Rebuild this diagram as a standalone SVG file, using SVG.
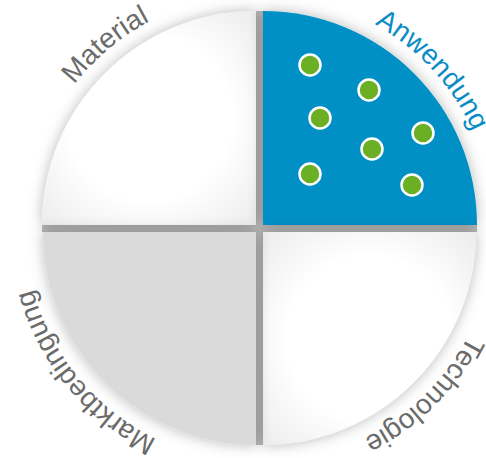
<svg xmlns="http://www.w3.org/2000/svg" xmlns:xlink="http://www.w3.org/1999/xlink" width="486" height="458" viewBox="0 0 486 458">
  <style>
    .lbl { font-family: "Liberation Sans", Arial, sans-serif; font-size: 28px; }
    .grey { fill: #6b6b6b; }
    .blue { fill: #0a8cc4; }
    .dot { fill: #6aaf24; stroke: #ffffff; stroke-width: 2.5; }
    .bar { fill: #bdbdbd; }
  </style>
  <defs>
    <filter id="sh" x="-20%" y="-20%" width="140%" height="140%">
      <feDropShadow dx="0" dy="0" stdDeviation="7" flood-color="#000000" flood-opacity="0.28"/>
    </filter>
    <radialGradient id="wg" cx="0.5" cy="0.5" r="0.7">
      <stop offset="0.55" stop-color="#ffffff"/>
      <stop offset="1" stop-color="#ececec"/>
    </radialGradient>
    <path id="ring" d="M25,228.5 A234.5,234.5 0 1 1 494,228.5 A234.5,234.5 0 1 1 25,228.5 Z"/>
  </defs>

  <g id="cross">
    <rect class="bar" x="256" y="11" width="7" height="434"/>
    <rect class="bar" x="42" y="225" width="435" height="7"/>
  </g>

  <g id="material" filter="url(#sh)">
    <path d="M256,225 L42,225 A214,214 0 0 1 256,11 Z" fill="url(#wg)"/>
  </g>
  <g id="anwendung" filter="url(#sh)">
    <path d="M263,225 L263,11 A214,214 0 0 1 477,225 Z" fill="#0090c6"/>
  </g>
  <g id="technologie" filter="url(#sh)">
    <path d="M263,232 L476,232 A213,213 0 0 1 263,445 Z" fill="url(#wg)"/>
  </g>
  <g id="marktbedingung" filter="url(#sh)">
    <path d="M256,232 L256,445 A213,213 0 0 1 43,232 Z" fill="#dadada"/>
  </g>

  <g id="dots">
    <circle class="dot" cx="310" cy="65" r="10.5"/>
    <circle class="dot" cx="369" cy="90" r="10.5"/>
    <circle class="dot" cx="320" cy="118" r="10.5"/>
    <circle class="dot" cx="423" cy="133" r="10.5"/>
    <circle class="dot" cx="372" cy="149" r="10.5"/>
    <circle class="dot" cx="310" cy="174" r="10.5"/>
    <circle class="dot" cx="412" cy="185" r="10.5"/>
  </g>

  <g id="labels">
    <text class="lbl grey"><textPath xlink:href="#ring" href="#ring" startOffset="13.89%" text-anchor="middle">Material</textPath></text>
    <text class="lbl blue"><textPath xlink:href="#ring" href="#ring" startOffset="38.19%" text-anchor="middle">Anwendung</textPath></text>
    <text class="lbl grey"><textPath xlink:href="#ring" href="#ring" startOffset="62.6%" text-anchor="middle">Technologie</textPath></text>
    <text class="lbl grey"><textPath xlink:href="#ring" href="#ring" startOffset="89.03%" text-anchor="middle">Marktbedingung</textPath></text>
  </g>
</svg>
